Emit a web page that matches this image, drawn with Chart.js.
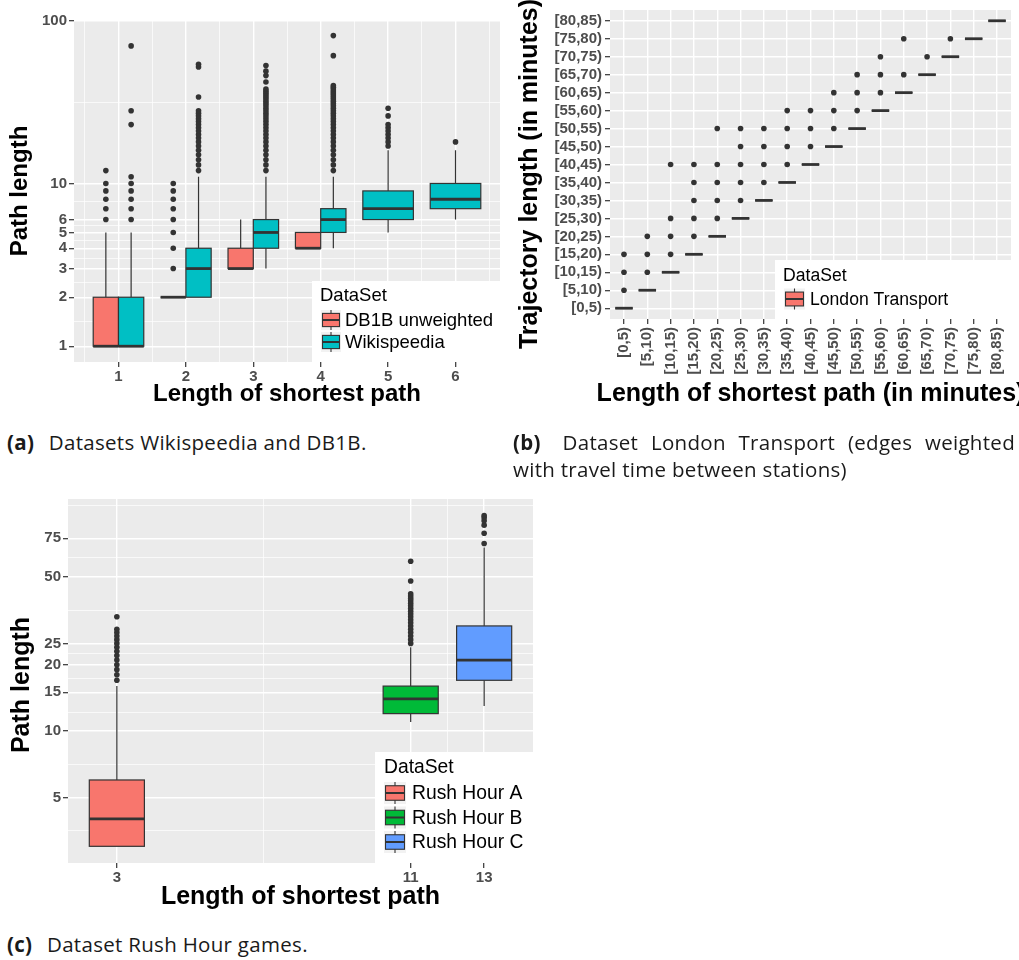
<!DOCTYPE html>
<html>
<head>
<meta charset="utf-8">
<script src="https://cdn.jsdelivr.net/npm/chart.js@4.4.1/dist/chart.umd.min.js"></script>
<style>
  body { margin: 0; background: #fff; width: 1019px; height: 960px; position: relative; overflow: hidden; }
  canvas { position: absolute; }
  #chartA { left: 0; top: 0; }
  #chartB { left: 510px; top: 0; }
  #chartC { left: 0; top: 480px; }
  .caption { position: absolute; font-family: "Open Sans", Lato, sans-serif; font-size: 20.5px; letter-spacing: 0.3px; color: #1a1a1a; line-height: 27px; white-space: nowrap; }
  .caption b { margin-right: 9px; }
  #capB { width: 502px; }
  #capB .first { text-align: justify; text-align-last: justify; }
</style>
</head>
<body>
<canvas id="chartA" width="505" height="415"></canvas>
<canvas id="chartB" width="509" height="415"></canvas>
<canvas id="chartC" width="545" height="440"></canvas>
<div class="caption" style="left:7px; top:429px;"><b>(a)</b> Datasets Wikispeedia and DB1B.</div>
<div class="caption" id="capB" style="left:513px; top:429px;"><div class="first"><b>(b)</b> Dataset London Transport (edges weighted</div><div>with travel time between stations)</div></div>
<div class="caption" style="left:7px; top:931px;"><b>(c)</b> Dataset Rush Hour games.</div>
<script>
const FONT = "'Liberation Sans', Arial, Helvetica, sans-serif";
const INK = '#333333';
const TICK_TEXT = '#4D4D4D';
const PANEL_BG = '#EBEBEB';

// ---------- (a) Wikispeedia and DB1B ----------
const aShortest = [1, 2, 3, 4, 5, 6];
const aXMinor = [0.5, 1.5, 2.5, 3.5, 4.5, 5.5, 6.5];
const aYTicks = [1, 2, 3, 4, 5, 6, 10, 100];
const aYMinor = [1.41, 2.45, 3.46, 4.47, 5.48, 7.75, 31.6];

const db1bLow    = [1, 2, 3, 4, null, null];
const db1bQ1     = [1, 2, 3, 4, null, null];
const db1bMedian = [1, 2, 3, 4, null, null];
const db1bQ3     = [2, 2, 4, 5, null, null];
const db1bHigh   = [5, 2, 6, 5, null, null];
const db1bOutliers = [
  [6, 7, 8, 9, 10, 12],
  [3, 4, 5, 6, 7, 8, 9, 10],
  [], [], [], []
];

const wikiLow    = [1, 2, 3, 4, 5, 6];
const wikiQ1     = [1, 2, 4, 5, 6, 7];
const wikiMedian = [1, 3, 5, 6, 7, 8];
const wikiQ3     = [2, 4, 6, 7, 9, 10];
const wikiHigh   = [5, 11, 11, 11, 16, 16];
const wikiOutliers = [
  [6, 7, 8, 9, 10, 11, 23, 28, 70],
  [12, 13, 14, 15, 16, 17, 18, 19, 20, 21, 22, 23, 24, 25, 26, 27, 28, 34, 52, 54],
  [12, 13, 14, 15, 16, 17, 18, 19, 20, 21, 22, 23, 24, 25, 26, 27, 28, 29, 30, 31, 32, 33, 34, 35, 36, 37, 38, 42, 46, 49, 53],
  [12, 13, 14, 15, 16, 17, 18, 19, 20, 21, 22, 23, 24, 25, 26, 27, 28, 29, 30, 31, 32, 33, 34, 35, 36, 37, 38, 39, 40, 61, 81],
  [17, 18, 19, 20, 21, 22, 23, 26, 29],
  [18]
];

// ---------- (b) London Transport ----------
const londonBins = ['[0,5)', '[5,10)', '[10,15)', '[15,20)', '[20,25)', '[25,30)', '[30,35)', '[35,40)',
  '[40,45)', '[45,50)', '[50,55)', '[55,60)', '[60,65)', '[65,70)', '[70,75)', '[75,80)', '[80,85)'];
const londonPos = [0, 1, 2, 3, 4, 5, 6, 7, 8, 9, 10, 11, 12, 13, 14, 15, 16];
// trajectory bin (index into londonBins) of the collapsed box for each shortest-path bin
const londonMedianBin = [0, 1, 2, 3, 4, 5, 6, 7, 8, 9, 10, 11, 12, 13, 14, 15, 16];
const londonOutlierBins = [
  [1, 2, 3], [2, 3, 4], [3, 4, 5, 8], [4, 5, 6, 7, 8], [5, 6, 7, 8, 10], [6, 7, 8, 9, 10],
  [7, 8, 9, 10], [8, 9, 10, 11], [9, 10, 11], [10, 11, 12], [11, 12, 13], [12, 13, 14],
  [13, 15], [14], [15], [], []
];

// ---------- (c) Rush Hour ----------
const rushShortest = [3, 11, 13];
const rushXMinor = [7, 12];
const rushYTicks = [5, 10, 15, 20, 25, 50, 75];
const rushYMinor = [3.54, 7.07, 12.2, 17.3, 22.4, 35.4, 61.2, 106];

const rushALow = [3, null, null], rushAQ1 = [3, null, null], rushAMedian = [4, null, null];
const rushAQ3 = [6, null, null], rushAHigh = [16, null, null];
const rushAOutliers = [[17, 18, 19, 20, 21, 22, 23, 24, 25, 26, 27, 28, 29, 33], [], []];

const rushBLow = [null, 11, null], rushBQ1 = [null, 12, null], rushBMedian = [null, 14, null];
const rushBQ3 = [null, 16, null], rushBHigh = [null, 24, null];
const rushBOutliers = [[], [25, 26, 27, 28, 29, 30, 31, 32, 33, 34, 35, 36, 37, 38, 39, 40, 41, 42, 48, 59], []];

const rushCLow = [null, null, 13], rushCQ1 = [null, null, 17], rushCMedian = [null, null, 21];
const rushCQ3 = [null, null, 30], rushCHigh = [null, null, 68];
const rushCOutliers = [[], [], [71, 79, 86, 90, 93, 95]];

// ---------- helpers ----------
function series(label, color, xs, low, q1, med, q3, high, outliers) {
  return { label, color, xs, low, q1, med, q3, high, outliers };
}

// dodge boxes that share a position, then turn outliers into scatter points
function makeDatasets(list, fullWidth) {
  return list.map(s => {
    const offset = [], width = [];
    s.xs.forEach((_, i) => {
      const here = list.filter(t => t.q1[i] != null);
      const w = fullWidth / Math.max(here.length, 1);
      width.push(w);
      offset.push((here.indexOf(s) - (here.length - 1) / 2) * w);
    });
    const points = [];
    s.outliers.forEach((vals, i) => vals.forEach(v => points.push({ x: s.xs[i] + offset[i], y: v })));
    return {
      type: 'scatter',
      label: s.label,
      data: points,
      pointRadius: 2.8,
      pointBackgroundColor: INK,
      pointBorderWidth: 0,
      box: Object.assign({}, s, { offset, width })
    };
  });
}

function scale(o) {
  return {
    type: o.type,
    min: o.min,
    max: o.max,
    bounds: 'data',
    afterBuildTicks(sc) {
      sc.ticks = o.major.map(v => ({ value: v }))
        .concat(o.minor.map(v => ({ value: v, minor: true })))
        .sort((a, b) => a.value - b.value);
    },
    afterFit(sc) {
      if (sc.isHorizontal()) sc.height = o.size; else sc.width = o.size;
      sc.paddingTop = sc.paddingBottom = sc.paddingLeft = sc.paddingRight = 0;
    },
    border: { display: false },
    grid: {
      color: '#FFFFFF',
      lineWidth: c => (c.tick && c.tick.minor ? 0.7 : 1.4),
      drawTicks: true,
      tickLength: 5,
      tickWidth: 1.2,
      tickColor: c => (c.tick && c.tick.minor ? 'rgba(0,0,0,0)' : INK)
    },
    ticks: {
      autoSkip: false,
      padding: o.padding,
      minRotation: o.rotate || 0,
      maxRotation: o.rotate || 0,
      color: TICK_TEXT,
      font: { family: FONT, size: 15, weight: 'bold' },
      callback: (v, i, ticks) => (ticks[i].minor ? '' : o.label(v))
    }
  };
}

const panelBackground = {
  id: 'panelBackground',
  beforeDraw(chart) {
    const { ctx, chartArea: a } = chart;
    ctx.save();
    ctx.fillStyle = PANEL_BG;
    ctx.fillRect(a.left, a.top, a.right - a.left, a.bottom - a.top);
    ctx.restore();
  }
};

const boxplot = {
  id: 'boxplot',
  beforeDatasetsDraw(chart) {
    const { ctx, scales: { x, y } } = chart;
    ctx.save();
    chart.data.datasets.forEach(ds => {
      const b = ds.box;
      b.xs.forEach((cx, i) => {
        if (b.q1[i] == null) return;
        const left = x.getPixelForValue(cx + b.offset[i] - b.width[i] / 2);
        const right = x.getPixelForValue(cx + b.offset[i] + b.width[i] / 2);
        const mid = (left + right) / 2;
        const yLow = y.getPixelForValue(b.low[i]);
        const yQ1 = y.getPixelForValue(b.q1[i]);
        const yMed = y.getPixelForValue(b.med[i]);
        const yQ3 = y.getPixelForValue(b.q3[i]);
        const yHigh = y.getPixelForValue(b.high[i]);
        ctx.strokeStyle = INK;
        ctx.lineWidth = 1.2;
        ctx.beginPath();
        ctx.moveTo(mid, yHigh); ctx.lineTo(mid, yQ3);
        ctx.moveTo(mid, yQ1); ctx.lineTo(mid, yLow);
        ctx.stroke();
        ctx.fillStyle = b.color;
        ctx.fillRect(left, yQ3, right - left, yQ1 - yQ3);
        ctx.strokeRect(left, yQ3, right - left, yQ1 - yQ3);
        ctx.lineWidth = 2.8;
        ctx.beginPath();
        ctx.moveTo(left, yMed); ctx.lineTo(right, yMed);
        ctx.stroke();
      });
    });
    ctx.restore();
  }
};

const axisTitles = {
  id: 'axisTitles',
  afterDraw(chart, args, o) {
    const { ctx, chartArea: a } = chart;
    ctx.save();
    ctx.fillStyle = '#000';
    ctx.font = 'bold ' + o.size + 'px ' + FONT;
    ctx.textAlign = 'center';
    ctx.textBaseline = 'middle';
    ctx.fillText(o.x, (a.left + a.right) / 2, o.xAt);
    ctx.translate(o.yAt, o.yCenter != null ? o.yCenter : (a.top + a.bottom) / 2);
    ctx.rotate(-Math.PI / 2);
    ctx.fillText(o.y, 0, 0);
    ctx.restore();
  }
};

const dataSetLegend = {
  id: 'dataSetLegend',
  afterDraw(chart, args, o) {
    const { ctx } = chart;
    ctx.save();
    ctx.fillStyle = '#FFFFFF';
    ctx.fillRect(o.left, o.top, o.width, o.height);
    ctx.fillStyle = '#000';
    ctx.font = o.fontSize + 'px ' + FONT;
    ctx.textBaseline = 'middle';
    ctx.fillText('DataSet', o.titleX, o.titleY);
    chart.data.datasets.forEach((ds, k) => {
      const cy = o.firstY + k * o.rowGap;
      const kx = o.keyX, ks = o.keySize, ky = cy - ks / 2;
      ctx.fillStyle = '#F2F2F2';
      ctx.fillRect(kx, ky, ks, ks);
      ctx.strokeStyle = INK;
      ctx.lineWidth = 1.1;
      ctx.beginPath();
      ctx.moveTo(kx + ks / 2, ky); ctx.lineTo(kx + ks / 2, ky + ks);
      ctx.stroke();
      ctx.fillStyle = ds.box.color;
      const bx = kx + 1.5, bw = ks - 3, by = ky + ks * 0.17, bh = ks * 0.66;
      ctx.fillRect(bx, by, bw, bh);
      ctx.strokeRect(bx, by, bw, bh);
      ctx.lineWidth = 2;
      ctx.beginPath();
      ctx.moveTo(bx, cy); ctx.lineTo(bx + bw, cy);
      ctx.stroke();
      ctx.fillStyle = '#000';
      ctx.fillText(ds.label, o.labelX, cy + 1);
    });
    ctx.restore();
  }
};

function makeChart(id, datasets, scales, padding, titles, legend) {
  return new Chart(document.getElementById(id), {
    type: 'scatter',
    data: { datasets },
    options: {
      responsive: false,
      animation: false,
      events: [],
      layout: { padding },
      scales,
      plugins: {
        legend: { display: false },
        tooltip: { enabled: false },
        axisTitles: titles,
        dataSetLegend: legend
      }
    },
    plugins: [panelBackground, boxplot, axisTitles, dataSetLegend]
  });
}

// ---------- draw (a) ----------
makeChart('chartA',
  makeDatasets([
    series('DB1B unweighted', '#F8766D', aShortest, db1bLow, db1bQ1, db1bMedian, db1bQ3, db1bHigh, db1bOutliers),
    series('Wikispeedia', '#00BFC4', aShortest, wikiLow, wikiQ1, wikiMedian, wikiQ3, wikiHigh, wikiOutliers)
  ], 0.75),
  {
    x: scale({ type: 'linear', min: 0.34, max: 6.66, major: aShortest, minor: aXMinor, size: 53, padding: 1, label: v => String(v) }),
    y: scale({ type: 'logarithmic', min: 0.8, max: 101, major: aYTicks, minor: aYMinor, size: 74, padding: 2, label: v => String(v) })
  },
  { top: 20, right: 5, left: 0, bottom: 0 },
  { x: 'Length of shortest path', y: 'Path length', size: 24, xAt: 394, yAt: 20 },
  { left: 312, top: 281, width: 188, height: 81, titleX: 320, titleY: 296, keyX: 321, keySize: 20, firstY: 320, rowGap: 22, labelX: 345, fontSize: 18.5 }
);

// ---------- draw (b) ----------
makeChart('chartB',
  makeDatasets([
    series('London Transport', '#F8766D', londonPos, londonMedianBin, londonMedianBin, londonMedianBin,
      londonMedianBin, londonMedianBin, londonOutlierBins)
  ], 0.75),
  {
    x: scale({ type: 'linear', min: -0.6, max: 16.6, major: londonPos, minor: [], size: 96, padding: 3, rotate: 90, label: v => londonBins[v] }),
    y: scale({ type: 'linear', min: -0.6, max: 16.6, major: londonPos, minor: [], size: 100, padding: 3, label: v => londonBins[v] })
  },
  { top: 10, right: 8, left: 0, bottom: 0 },
  { x: 'Length of shortest path (in minutes)', y: 'Trajectory length (in minutes)', size: 25, xAt: 394, yAt: 20, yCenter: 174 },
  { left: 265, top: 260, width: 236, height: 59, titleX: 273, titleY: 276, keyX: 274, keySize: 21, firstY: 299, rowGap: 24, labelX: 300, fontSize: 17.6 }
);

// ---------- draw (c) ----------
makeChart('chartC',
  makeDatasets([
    series('Rush Hour A', '#F8766D', rushShortest, rushALow, rushAQ1, rushAMedian, rushAQ3, rushAHigh, rushAOutliers),
    series('Rush Hour B', '#00BA38', rushShortest, rushBLow, rushBQ1, rushBMedian, rushBQ3, rushBHigh, rushBOutliers),
    series('Rush Hour C', '#619CFF', rushShortest, rushCLow, rushCQ1, rushCMedian, rushCQ3, rushCHigh, rushCOutliers)
  ], 1.5),
  {
    x: scale({ type: 'linear', min: 1.67, max: 14.33, major: rushShortest, minor: rushXMinor, size: 57, padding: 1, label: v => String(v) }),
    y: scale({ type: 'logarithmic', min: 2.52, max: 113, major: rushYTicks, minor: rushYMinor, size: 68, padding: 2, label: v => String(v) })
  },
  { top: 19, right: 12, left: 0, bottom: 0 },
  { x: 'Length of shortest path', y: 'Path length', size: 25, xAt: 417, yAt: 22, yCenter: 205 },
  { left: 375, top: 272, width: 158, height: 111, titleX: 384, titleY: 288, keyX: 384, keySize: 22, firstY: 313, rowGap: 24.5, labelX: 412, fontSize: 19.3 }
);
</script>
</body>
</html>
